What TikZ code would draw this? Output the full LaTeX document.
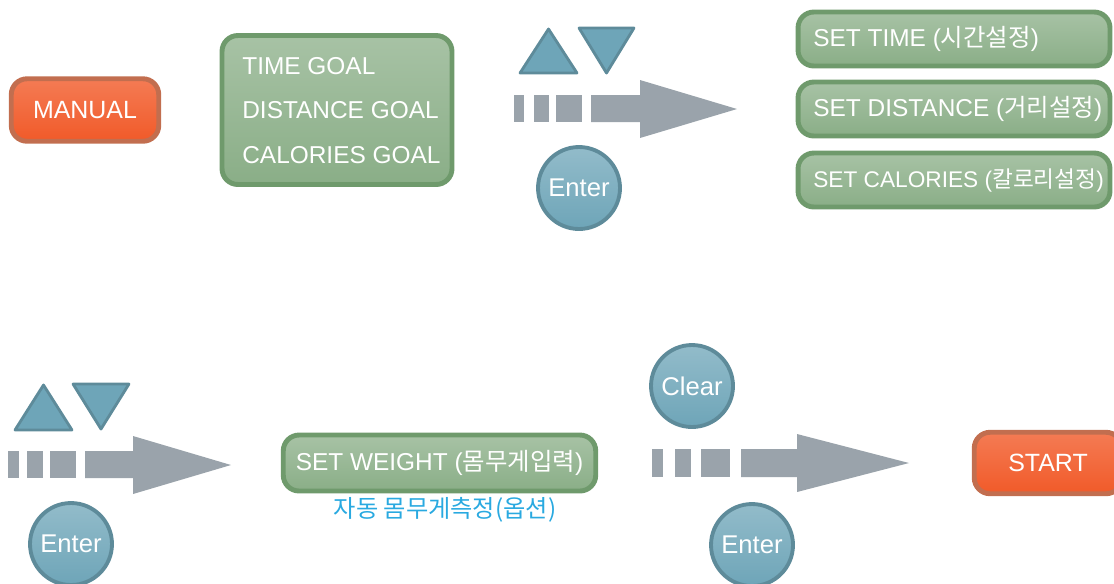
\documentclass[tikz,border=0pt]{standalone}
\usepackage{fontspec}
\setmainfont{Liberation Sans}
\newfontfamily\krfont{Noto Sans CJK KR}
\usetikzlibrary{calc}

\definecolor{btnorange}{HTML}{F15A29}
\definecolor{btnorangeedge}{HTML}{C26E4F}
\definecolor{btngreen}{HTML}{8AAE87}
\definecolor{btngreenedge}{HTML}{6F9A6C}
\definecolor{keyblue}{HTML}{6EA5B8}
\definecolor{keyblueedge}{HTML}{5E8B9A}
\definecolor{arrowgrey}{HTML}{9AA3AB}
\definecolor{notecyan}{HTML}{29A9E0}

\tikzset{
	orangebtn/.style={rectangle, rounded corners=9pt, draw=btnorangeedge, line width=2.8pt,
		top color=btnorange!80!white, middle color=btnorange, bottom color=btnorange,
		text=white, font=\fontsize{14.2}{16}\selectfont},
	greenbtn/.style={rectangle, rounded corners=9pt, draw=btngreenedge, line width=2.8pt,
		top color=btngreen!75!white, middle color=btngreen, bottom color=btngreen},
	btntext/.style={text=white, font=\fontsize{13.9}{16}\selectfont, inner sep=0pt},
	roundkey/.style={circle, draw=keyblueedge, line width=2.2pt, minimum size=1.64cm,
		top color=keyblue!75!white, middle color=keyblue, bottom color=keyblue,
		text=white, font=\fontsize{14.6}{16}\selectfont, inner sep=0pt},
	trikey/.style={draw=keyblueedge, line width=1.6pt, fill=keyblue, line join=round},
	flowarrow/.style={fill=arrowgrey, draw=none},
}

\begin{document}
\begin{tikzpicture}[x=0.02cm, y=-0.02cm]
		%%%%% START %%%%%
		\useasboundingbox (0, 0) rectangle (1114, 583);
		
		% first row
		\node[orangebtn, minimum width=2.95cm, minimum height=1.25cm] (manual) at (85, 110) {MANUAL};
		
		\node[greenbtn, minimum width=4.6cm, minimum height=2.98cm] (goals) at (337, 110) {};
		\node[btntext, anchor=west] (timegoal) at (242, 66) {TIME GOAL};
		\node[btntext, anchor=west] (distgoal) at (242, 110) {DISTANCE GOAL};
		\node[btntext, anchor=west] (calgoal) at (242, 155) {CALORIES GOAL};
		
		\draw[trikey] (520, 73) -- (577, 73) -- (548.5, 29) -- cycle;
		\draw[trikey] (579, 28) -- (634, 28) -- (606.5, 73) -- cycle;
		
		\fill[flowarrow] (514, 95) rectangle (524, 122);
		\fill[flowarrow] (534, 95) rectangle (549, 122);
		\fill[flowarrow] (556, 95) rectangle (582, 122);
		\fill[flowarrow] (591, 95) -- (640, 95) -- (640, 80) -- (737, 109) -- (640, 138) -- (640, 122) -- (591, 122) -- cycle;
		
		\node[roundkey] (enterA) at (579, 188) {Enter};
		
		\node[greenbtn, minimum width=6.24cm, minimum height=1.08cm] (settime) at (954, 39) {};
		\node[btntext, anchor=west] (settimetxt) at (813, 39) {SET TIME ({\krfont 시간설정})};
		\node[greenbtn, minimum width=6.24cm, minimum height=1.08cm] (setdist) at (954, 109) {};
		\node[btntext, anchor=west] (setdisttxt) at (813, 109) {SET DISTANCE ({\krfont 거리설정})};
		\node[greenbtn, minimum width=6.24cm, minimum height=1.08cm] (setcal) at (954, 180) {};
		\node[btntext, anchor=west, font=\fontsize{12.9}{15}\selectfont] (setcaltxt) at (813, 180) {SET CALORIES ({\krfont 칼로리설정})};
		
		% second row
		\draw[trikey] (15, 430) -- (72, 430) -- (43.5, 385) -- cycle;
		\draw[trikey] (73, 384) -- (129, 384) -- (101, 429) -- cycle;
		
		\fill[flowarrow] (8, 451) rectangle (19, 478);
		\fill[flowarrow] (27, 451) rectangle (43, 478);
		\fill[flowarrow] (50, 451) rectangle (76, 478);
		\fill[flowarrow] (85, 451) -- (133, 451) -- (133, 436) -- (231, 465) -- (133, 494) -- (133, 478) -- (85, 478) -- cycle;
		
		\node[roundkey] (enterB) at (71, 544) {Enter};
		
		\node[greenbtn, minimum width=6.25cm, minimum height=1.12cm, btntext, inner sep=3pt] (setweight) at (439.5, 463) {SET WEIGHT ({\krfont 몸무게입력})};
		\node[text=notecyan, font=\krfont\fontsize{13.8}{15}\selectfont, inner sep=0pt] (autoweigh) at (445, 510) {자동 몸무게측정(옵션)};
		
		\node[roundkey] (clear) at (692, 386) {Clear};
		
		\fill[flowarrow] (652, 449) rectangle (663, 477);
		\fill[flowarrow] (675, 449) rectangle (691, 477);
		\fill[flowarrow] (701, 449) rectangle (730, 477);
		\fill[flowarrow] (741, 449) -- (797, 449) -- (797, 434) -- (909, 463) -- (797, 492) -- (797, 477) -- (741, 477) -- cycle;
		
		\node[roundkey] (enterC) at (752, 545) {Enter};
		
		\node[orangebtn, minimum width=2.95cm, minimum height=1.23cm] (start) at (1048, 463) {START};
		%%%%% END %%%%%
	\end{tikzpicture}
\end{document}
